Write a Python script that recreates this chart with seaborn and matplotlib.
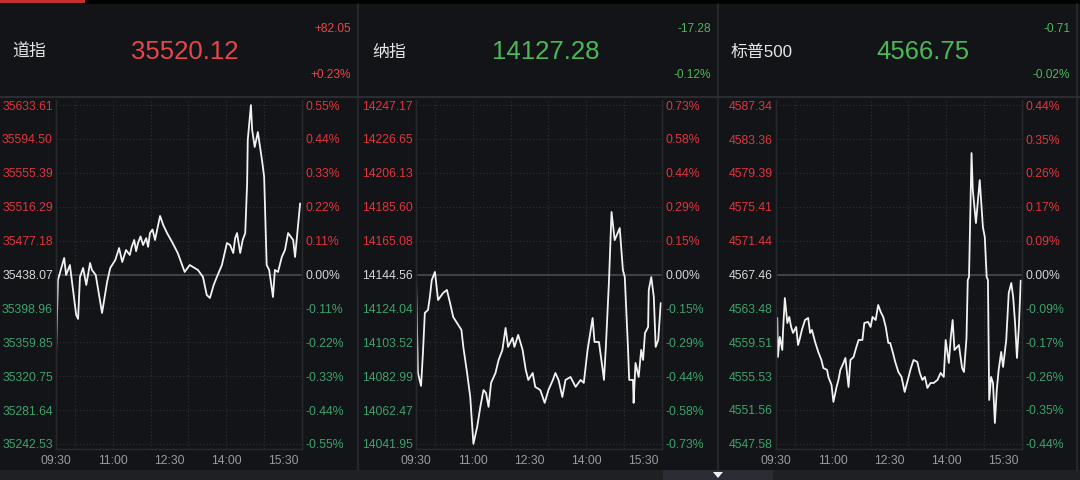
import numpy as np
import matplotlib.pyplot as plt
import pandas as pd
import seaborn as sns
from matplotlib.lines import Line2D
from matplotlib.patches import Rectangle, Polygon

# Daten: Minuten seit 09:30 und Indexstand
dow_min = [0, 3, 13, 16, 22, 32, 35, 38, 43, 48, 54, 57, 63, 73, 81, 86, 94, 100, 105, 111,
           117, 120, 124, 127, 130, 134, 138, 143, 146, 149, 153, 157, 161, 165, 170, 176, 184,
           193, 204, 212, 225, 233, 239, 244, 250, 255, 263, 271, 276, 281, 284, 287, 292, 296,
           300, 303, 304, 309, 311, 315, 320, 327, 330, 334, 338, 344, 347, 352, 358, 363, 368,
           376, 379, 382, 387]
dow_val = [35345.2, 35431.7, 35457.1, 35437.5, 35449.0, 35391.4, 35386.8, 35435.2, 35445.6,
           35426.0, 35451.3, 35443.3, 35437.5, 35393.7, 35429.4, 35445.6, 35454.8, 35468.6,
           35452.5, 35466.3, 35460.6, 35470.0, 35477.9, 35465.0, 35474.4, 35482.0, 35472.1,
           35480.0, 35470.0, 35485.9, 35490.0, 35477.9, 35492.0, 35505.6, 35495.2, 35486.0,
           35475.6, 35462.9, 35441.0, 35449.0, 35443.3, 35435.2, 35414.4, 35411.0, 35426.0,
           35435.2, 35449.0, 35474.4, 35472.1, 35462.9, 35480.0, 35485.9, 35462.9, 35478.0,
           35485.9, 35543.6, 35593.2, 35633.6, 35604.8, 35585.2, 35602.5, 35567.9, 35550.6,
           35449.0, 35443.3, 35412.1, 35443.3, 35441.0, 35458.3, 35466.3, 35485.9, 35477.9,
           35458.3, 35481.4, 35520.1]

ndx_min = [0, 3, 8, 11, 14, 19, 22, 25, 30, 35, 43, 49, 54, 59, 65, 72, 75, 81, 86, 91, 97,
           102, 107, 111, 115, 119, 126, 131, 137, 142, 146, 153, 156, 162, 169, 174, 178, 185,
           189, 197, 204, 210, 217, 221, 226, 232, 237, 245, 253, 261, 266, 272, 280, 283, 290,
           296, 298, 301, 306, 310, 315, 323, 328, 331, 336, 338, 344, 345, 348, 353, 357, 360,
           363, 368, 369, 373, 377, 380, 384, 388]
ndx_val = [14142.4, 14084.9, 14077.1, 14097.0, 14121.3, 14123.1, 14131.0, 14141.2, 14146.1,
           14129.1, 14133.4, 14135.2, 14127.3, 14118.8, 14115.2, 14111.0, 14100.7, 14084.9,
           14070.4, 14042.0, 14052.3, 14064.4, 14074.6, 14072.8, 14064.4, 14078.9, 14084.9,
           14092.8, 14098.9, 14112.2, 14100.7, 14106.2, 14100.7, 14108.0, 14098.9, 14086.8,
           14080.7, 14084.9, 14076.5, 14074.6, 14066.8, 14074.6, 14080.7, 14084.9, 14080.7,
           14070.4, 14080.7, 14082.5, 14076.5, 14080.7, 14078.9, 14098.9, 14118.2, 14103.7,
           14103.7, 14086.8, 14080.7, 14100.7, 14141.2, 14182.4, 14165.4, 14172.7, 14147.3,
           14143.0, 14100.7, 14080.7, 14080.7, 14066.8, 14091.0, 14082.5, 14098.9, 14092.8,
           14109.1, 14112.8, 14135.2, 14143.0, 14131.0, 14100.7, 14104.9, 14127.3]

spx_min = [2, 3, 6, 10, 11, 14, 18, 21, 24, 27, 32, 35, 38, 41, 46, 51, 54, 57, 62, 67, 72,
           75, 81, 83, 88, 91, 96, 99, 102, 107, 110, 115, 118, 123, 127, 131, 137, 140, 146,
           150, 153, 158, 162, 166, 170, 174, 178, 181, 185, 189, 194, 199, 204, 209, 213, 218,
           224, 228, 232, 236, 240, 245, 250, 256, 261, 266, 269, 274, 277, 280, 283, 290, 295,
           298, 302, 304, 306, 310, 312, 317, 323, 328, 331, 334, 336, 338, 341, 344, 347, 350,
           353, 357, 360, 365, 369, 373, 376, 379, 382, 385, 388]
spx_val = [4562.36, 4557.78, 4560.13, 4558.60, 4560.60, 4564.70, 4561.77, 4562.48, 4561.30,
           4560.60, 4561.30, 4559.19, 4560.01, 4560.95, 4562.12, 4562.36, 4560.60, 4560.95,
           4559.54, 4558.37, 4557.43, 4556.49, 4556.26, 4555.44, 4554.50, 4552.51, 4554.26,
           4555.09, 4556.26, 4557.08, 4557.67, 4554.26, 4557.43, 4557.78, 4558.84, 4559.78,
           4559.78, 4561.77, 4561.89, 4561.30, 4562.48, 4562.12, 4563.88, 4563.06, 4562.48,
           4561.30, 4559.43, 4559.43, 4558.37, 4557.20, 4556.02, 4555.44, 4553.68, 4555.09,
           4556.26, 4557.43, 4557.20, 4555.91, 4555.09, 4555.44, 4554.15, 4554.73, 4554.73,
           4555.09, 4555.91, 4555.44, 4559.78, 4557.08, 4560.01, 4562.12, 4558.60, 4559.19,
           4556.49, 4556.02, 4560.01, 4566.81, 4567.17, 4581.71, 4577.37, 4573.50, 4578.54,
           4573.03, 4571.86, 4567.17, 4566.81, 4552.74, 4555.44, 4554.73, 4550.04, 4553.91,
           4556.26, 4558.37, 4556.61, 4559.78, 4565.29, 4566.46, 4564.82, 4561.77, 4557.67,
           4561.30, 4566.75]

names = ['道指', '纳指', '标普500']
last_val = ['35520.12', '14127.28', '4566.75']
chg_pts = ['+82.05', '-17.28', '-0.71']
chg_pct = ['+0.23%', '-0.12%', '-0.02%']

dow_ticks = [35633.61, 35594.50, 35555.39, 35516.29, 35477.18, 35438.07,
             35398.96, 35359.85, 35320.75, 35281.64, 35242.53]
ndx_ticks = [14247.17, 14226.65, 14206.13, 14185.60, 14165.08, 14144.56,
             14124.04, 14103.52, 14082.99, 14062.47, 14041.95]
spx_ticks = [4587.34, 4583.36, 4579.39, 4575.41, 4571.44, 4567.46,
             4563.48, 4559.51, 4555.53, 4551.56, 4547.58]
dow_pct = ['0.55%', '0.44%', '0.33%', '0.22%', '0.11%', '0.00%',
           '-0.11%', '-0.22%', '-0.33%', '-0.44%', '-0.55%']
ndx_pct = ['0.73%', '0.58%', '0.44%', '0.29%', '0.15%', '0.00%',
           '-0.15%', '-0.29%', '-0.44%', '-0.58%', '-0.73%']
spx_pct = ['0.44%', '0.35%', '0.26%', '0.17%', '0.09%', '0.00%',
           '-0.09%', '-0.17%', '-0.26%', '-0.35%', '-0.44%']

time_pos = [0, 90, 180, 270, 360]
time_labels = ['09:30', '11:00', '12:30', '14:00', '15:30']

# Farben
BG = '#131418'
RED = '#e0353d'
GREEN = '#3ea26c'
HRED = '#e8464a'
HGREEN = '#4db757'
GRAY = '#9a9b9e'
LINE = '#2a2c30'

sns.set_theme(style='dark')
plt.rcParams['font.family'] = ['Liberation Sans', 'Noto Sans CJK SC', 'DejaVu Sans']

fig = plt.figure(figsize=(10.8, 4.8), dpi=100)
fig.patch.set_facecolor(BG)
W, H = 1080, 480


def fx(x):
    return x / W


def fy(y):
    return 1 - y / H


# Rahmen / Balken
fig.add_artist(Rectangle((0, fy(4)), 1, 4 / H, transform=fig.transFigure, color='#000000', lw=0))
fig.add_artist(Rectangle((0, fy(3)), 85 / W, 3 / H, transform=fig.transFigure, color='#c8302f', lw=0))
fig.add_artist(Rectangle((0, 0), 1, 10 / H, transform=fig.transFigure, color='#1f2024', lw=0))
fig.add_artist(Rectangle((fx(663), 0), 110 / W, 10 / H, transform=fig.transFigure, color='#2b2c34', lw=0))
fig.add_artist(Polygon([(fx(713), fy(472)), (fx(723), fy(472)), (fx(718), fy(478))],
                       closed=True, transform=fig.transFigure, color='#f0f0f0', lw=0))
fig.add_artist(Line2D([0, 1], [fy(97), fy(97)], transform=fig.transFigure, color=LINE, lw=1.5))
for xs in [358, 718, 1077]:
    fig.add_artist(Line2D([fx(xs), fx(xs)], [fy(470), fy(4)], transform=fig.transFigure, color=LINE, lw=1.2))

panels = [
    (dow_min, dow_val, dow_ticks, dow_pct, 56, 12, 185, 351),
    (ndx_min, ndx_val, ndx_ticks, ndx_pct, 416, 372, 546, 711),
    (spx_min, spx_val, spx_ticks, spx_pct, 776, 731, 923, 1070),
]

for i, (tm, vals, ticks, pcts, left, name_x, val_x, chg_x) in enumerate(panels):
    up = chg_pts[i].startswith('+')
    hc = HRED if up else HGREEN

    # Kopfzeile
    fig.text(fx(name_x), fy(52), names[i], color='#e6e6e6', fontsize=12.2, va='center', ha='left')
    fig.text(fx(val_x), fy(52), last_val[i], color=hc, fontsize=18.5, va='center', ha='center')
    fig.text(fx(chg_x), fy(29), chg_pts[i], color=hc, fontsize=8.6, va='center', ha='right')
    fig.text(fx(chg_x), fy(75), chg_pct[i], color=hc, fontsize=8.6, va='center', ha='right')

    ax = fig.add_axes([fx(left), fy(449), 246 / W, 349 / H])
    ax.set_facecolor(BG)
    df = pd.DataFrame({'t': tm, 'v': vals})
    sns.lineplot(data=df, x='t', y='v', ax=ax, color='#f2f2f2', lw=1.3)

    step = ticks[0] - ticks[1]
    lo, hi = ticks[-1] - step * 0.15, ticks[0] + step * 0.15
    ax.set_xlim(0, 390)
    ax.set_ylim(lo, hi)
    ax.set_xlabel('')
    ax.set_ylabel('')

    base = ticks[5]
    ax.axhline(base, color='#4a4b50', lw=1.2, zorder=1)
    for t in ticks:
        if t != base:
            ax.axhline(t, color='#303237', lw=0.8, ls=(0, (1, 2)), zorder=0)
    for h in [30, 90, 150, 210, 270, 330]:
        ax.axvline(h, color='#303237', lw=0.8, ls=(0, (1, 2)), zorder=0)
    ax.grid(False)

    ax.set_xticks(time_pos)
    ax.set_xticklabels(time_labels)
    ax.set_yticks(ticks)
    ax.set_yticklabels([f'{t:.2f}' for t in ticks])
    ax.tick_params(axis='x', length=0, pad=4, labelsize=8.8, labelcolor=GRAY)
    ax.tick_params(axis='y', length=0, pad=2.2, labelsize=8.8)

    ax2 = ax.twinx()
    ax2.set_ylim(lo, hi)
    ax2.set_yticks(ticks)
    ax2.set_yticklabels(pcts)
    ax2.tick_params(axis='y', length=0, pad=2.2, labelsize=8.8)
    ax2.grid(False)

    for k, (l1, l2) in enumerate(zip(ax.get_yticklabels(), ax2.get_yticklabels())):
        c = RED if k < 5 else ('#d6d6d6' if k == 5 else GREEN)
        l1.set_color(c)
        l2.set_color(c)

    for a in (ax, ax2):
        for s in a.spines.values():
            s.set_color('#26282c')
            s.set_linewidth(1)
        a.spines['top'].set_visible(False)

fig.savefig('out.png', dpi=100, facecolor=BG)
